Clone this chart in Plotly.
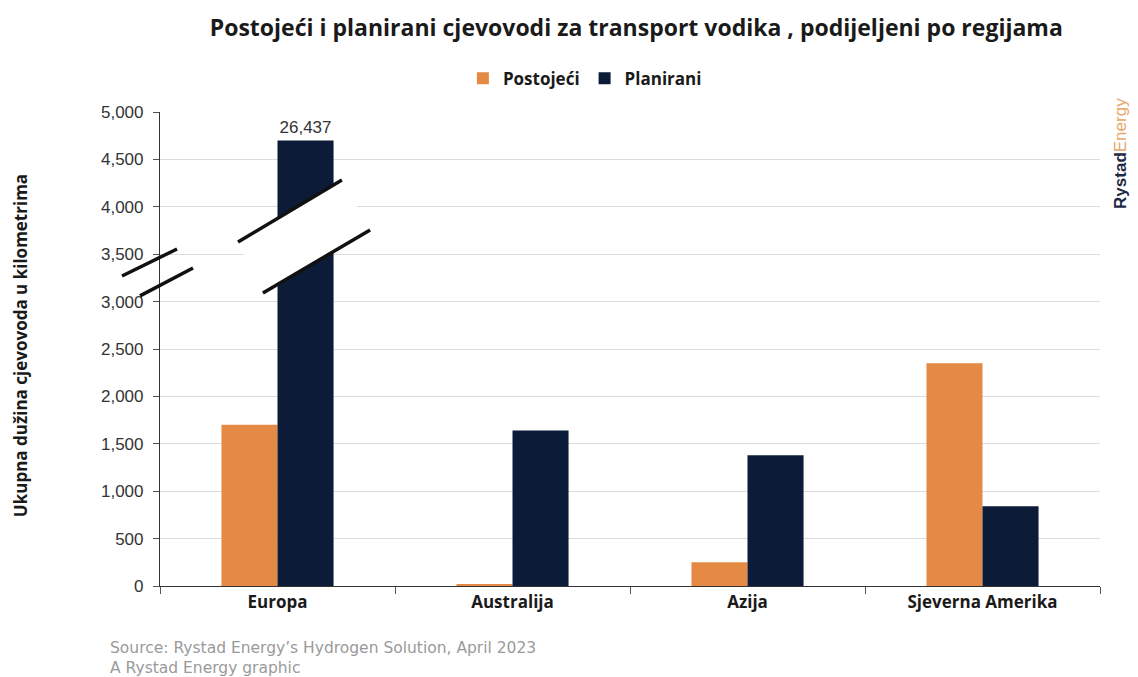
import plotly.graph_objects as go

# podaci
regije = ["Europa", "Australija", "Azija", "Sjeverna Amerika"]
postojeci = [1700, 20, 250, 2350]
planirani = [26437, 1640, 1380, 840]
prikaz_max = 4700  # vrh prekinutog stupca (Europa, planirani)

y_ticks = list(range(0, 5001, 500))

NARANCASTA = "#E58A45"
PLAVA = "#0B1B38"

planirani_prikaz = [min(v, prikaz_max) for v in planirani]
planirani_tekst = [f"{v:,}" if v > prikaz_max else "" for v in planirani]

fig = go.Figure()

fig.add_trace(
    go.Bar(
        x=regije,
        y=postojeci,
        name="Postojeći",
        marker=dict(color=NARANCASTA, line=dict(width=0)),
    )
)

fig.add_trace(
    go.Bar(
        x=regije,
        y=planirani_prikaz,
        name="Planirani",
        marker=dict(color=PLAVA, line=dict(width=0)),
        text=planirani_tekst,
        textposition="outside",
        textfont=dict(family="Liberation Sans, Arial", size=17, color="#333333"),
        cliponaxis=False,
    )
)

# prekid stupca (bijela traka s dvije kose crte)
fig.add_shape(
    type="path",
    xref="x", yref="y",
    path="M -0.168,3629 L 0.274,4283 L 0.394,3755 L -0.062,3091 Z",
    fillcolor="white",
    line=dict(width=0),
    layer="above",
)
for x0, y0, x1, y1 in [(-0.168, 3629, 0.274, 4283), (-0.062, 3091, 0.394, 3755)]:
    fig.add_shape(type="line", xref="x", yref="y", x0=x0, y0=y0, x1=x1, y1=y1,
                  line=dict(color="#111111", width=3.5), layer="above")

# prekid osi
for x0, y0, x1, y1 in [(-0.0404, 0.654, 0.0181, 0.711), (-0.0213, 0.612, 0.0351, 0.671)]:
    fig.add_shape(type="line", xref="x domain", yref="y domain", x0=x0, y0=y0, x1=x1, y1=y1,
                  line=dict(color="#111111", width=3.5), layer="above")

# stranica ima marginu od 8 px, pa je slika za toliko manja
fig.update_layout(
    width=1130,
    height=669,
    margin=dict(l=152, r=38, t=104, b=91),
    paper_bgcolor="white",
    plot_bgcolor="white",
    barmode="group",
    bargap=0.523,
    bargroupgap=0,
    title=dict(
        text="<b>Postojeći i planirani cjevovodi za transport vodika , podijeljeni po regijama</b>",
        x=0.556, xanchor="center", y=0.970, yanchor="middle",
        font=dict(family="Open Sans", size=23, color="#1a1a1a"),
    ),
    legend=dict(
        orientation="h",
        x=0.452, xanchor="center",
        y=1.07, yanchor="middle",
        font=dict(family="Open Sans", size=17, color="#1a1a1a", weight="bold"),
        itemwidth=30,
        traceorder="normal",
    ),
    xaxis=dict(
        showline=True, linecolor="#333333", linewidth=1.2,
        ticks="outside", tickson="boundaries", ticklen=7, tickcolor="#555555",
        tickfont=dict(family="Open Sans", size=17, color="#1a1a1a", weight="bold"),
        showgrid=False,
    ),
    yaxis=dict(
        range=[0, 5000],
        tickvals=y_ticks,
        tickformat=",",
        showline=True, linecolor="#333333", linewidth=1.2,
        ticks="outside", ticklen=6, tickcolor="#555555",
        ticklabelstandoff=6,
        tickfont=dict(family="Liberation Sans, Arial", size=17, color="#333333"),
        showgrid=True, gridcolor="#dcdcdc", gridwidth=1,
        zeroline=False,
    ),
)

# naslov osi y
fig.add_annotation(
    text="<b>Ukupna dužina cjevovoda u kilometrima</b>",
    xref="paper", yref="paper", x=-0.149, y=0.508,
    xanchor="center", yanchor="middle", textangle=-90, showarrow=False,
    font=dict(family="Open Sans", size=17, color="#1a1a1a"),
)

# izvor
fig.add_annotation(
    text="Source: Rystad Energy’s Hydrogen Solution, April 2023<br>A Rystad Energy graphic",
    xref="paper", yref="paper", x=-0.0553, y=-0.152,
    xanchor="left", yanchor="middle", align="left", showarrow=False,
    font=dict(family="DejaVu Sans", size=15.5, color="#9a9a9a"),
)

# logo
fig.add_annotation(
    text="<b>Rystad</b><span style='color:#E8A76A'>Energy</span>",
    xref="paper", yref="paper", x=1.022, y=0.913,
    xanchor="center", yanchor="middle", textangle=-90, showarrow=False,
    font=dict(family="Liberation Sans, Arial", size=17, color="#1f2a44"),
)

fig.write_html("out.html")
